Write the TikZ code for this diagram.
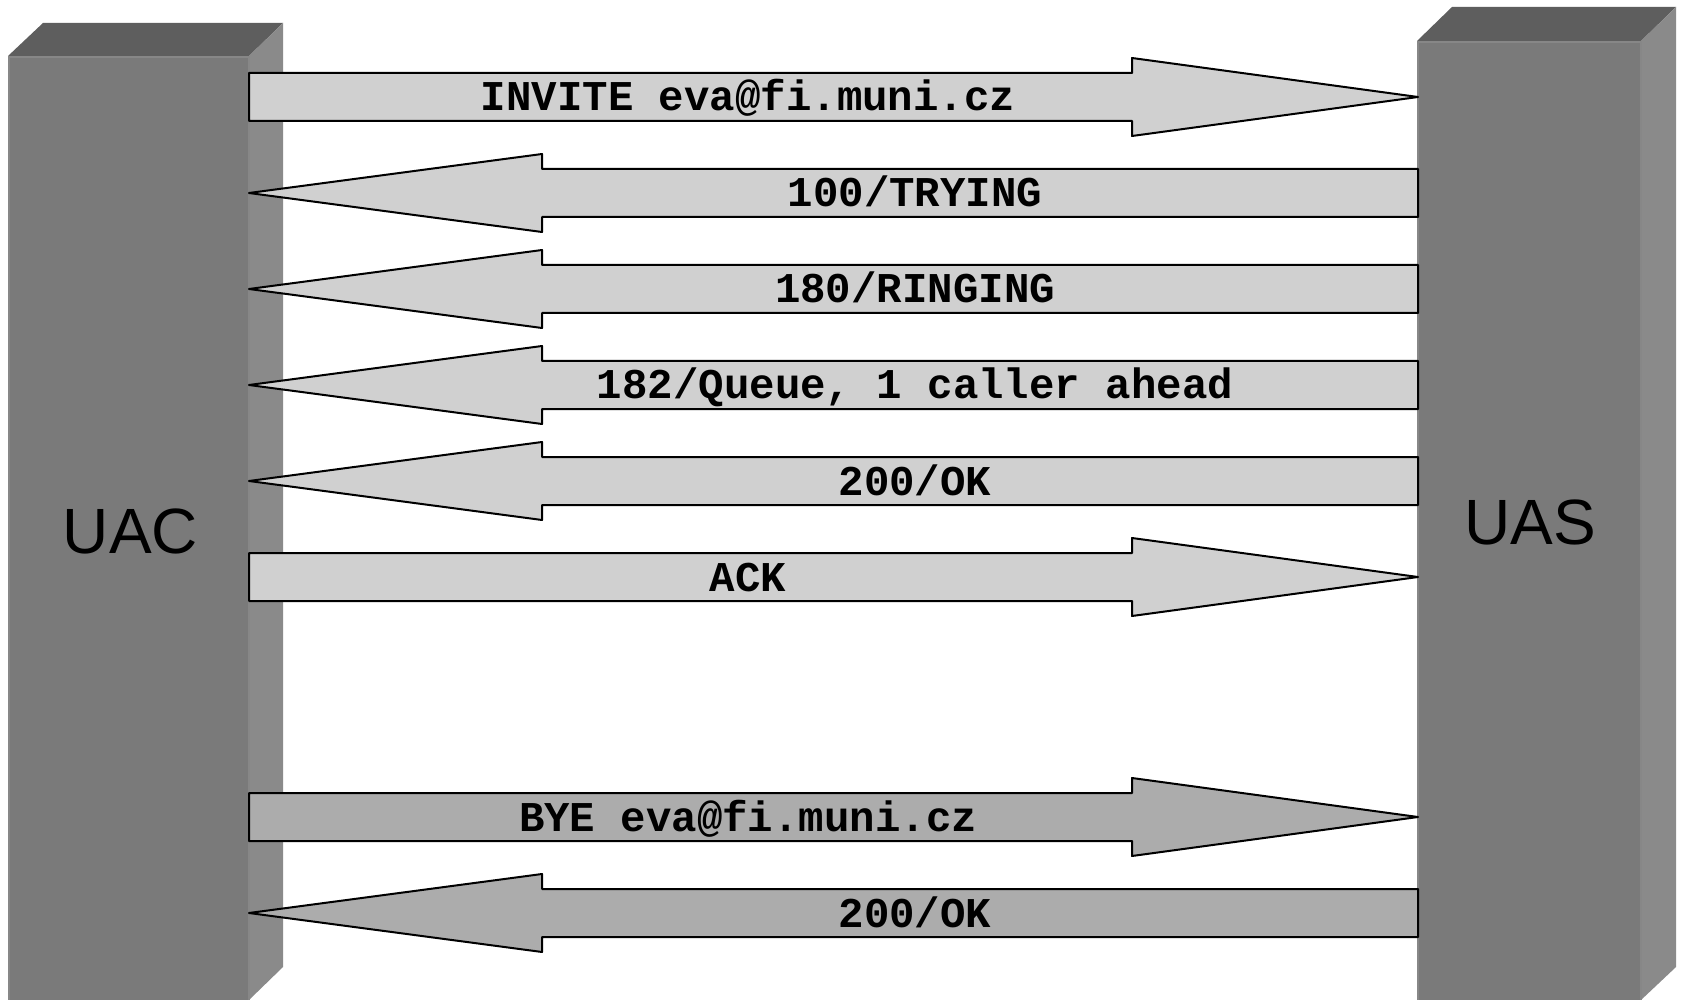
\documentclass[tikz,border=0pt]{standalone}
\usepackage{fontspec}
\setmainfont{Liberation Sans}
\newfontfamily\monofnt{Liberation Mono}
\definecolor{pfront}{gray}{0.478}
\definecolor{pedge}{gray}{0.53}
\definecolor{ptop}{gray}{0.368}
\definecolor{pside}{gray}{0.541}
\definecolor{alight}{gray}{0.816}
\definecolor{adark}{gray}{0.674}
\tikzset{
  arrowshape/.style={draw=black,line width=2pt,line join=round},
  msglabel/.style={anchor=base,inner sep=0pt,font=\monofnt\bfseries\fontsize{42.4}{50}\selectfont},
  pillarlabel/.style={anchor=base,inner sep=0pt,font=\fontsize{64}{70}\selectfont},
}
\newcommand\sipRight[4]{% name, y, fill, text
  \draw[arrowshape,fill=#3] (249,#2-24) -- (1132,#2-24) -- (1132,#2-39) -- (1418,#2)
     -- (1132,#2+39) -- (1132,#2+24) -- (249,#2+24) -- cycle;
  \node[msglabel] (#1) at (748,#2+14) {#4};}
\newcommand\sipLeft[4]{% name, y, fill, text
  \draw[arrowshape,fill=#3] (1418,#2-24) -- (542,#2-24) -- (542,#2-39) -- (249,#2)
     -- (542,#2+39) -- (542,#2+24) -- (1418,#2+24) -- cycle;
  \node[msglabel] (#1) at (915,#2+14) {#4};}
\begin{document}
\begin{tikzpicture}[x=1pt,y=-1pt]
\useasboundingbox[fill=white] (0,0) rectangle (1682,1000);
% left pillar
\fill[ptop] (8,56) -- (43,23) -- (283,23) -- (249,56) -- cycle;
\fill[pside] (249,56) -- (283,23) -- (283,967) -- (249,1000) -- cycle;
\draw[pedge,fill=pfront,line width=2pt] (9,1001) -- (9,57) -- (249,57) -- (249,1001);
% right pillar
\fill[ptop] (1417,41) -- (1452,7) -- (1676,7) -- (1641,41) -- cycle;
\fill[pside] (1641,41) -- (1676,7) -- (1676,967) -- (1641,1000) -- cycle;
\draw[pedge,fill=pfront,line width=2pt] (1418,1001) -- (1418,42) -- (1641,42) -- (1641,1001);
\node[pillarlabel] (uac) at (130.5,553) {UAC};
\node[pillarlabel] (uas) at (1530.5,544) {UAS};
% messages
\sipRight{m1}{97}{alight}{INVITE eva@fi.muni.cz}
\sipLeft{m2}{193}{alight}{100/TRYING}
\sipLeft{m3}{289}{alight}{180/RINGING}
\sipLeft{m4}{385}{alight}{182/Queue, 1 caller ahead}
\sipLeft{m5}{481}{alight}{200/OK}
\sipRight{m6}{577}{alight}{ACK}
\sipRight{m7}{817}{adark}{BYE eva@fi.muni.cz}
\sipLeft{m8}{913}{adark}{200/OK}
\end{tikzpicture}
\end{document}
